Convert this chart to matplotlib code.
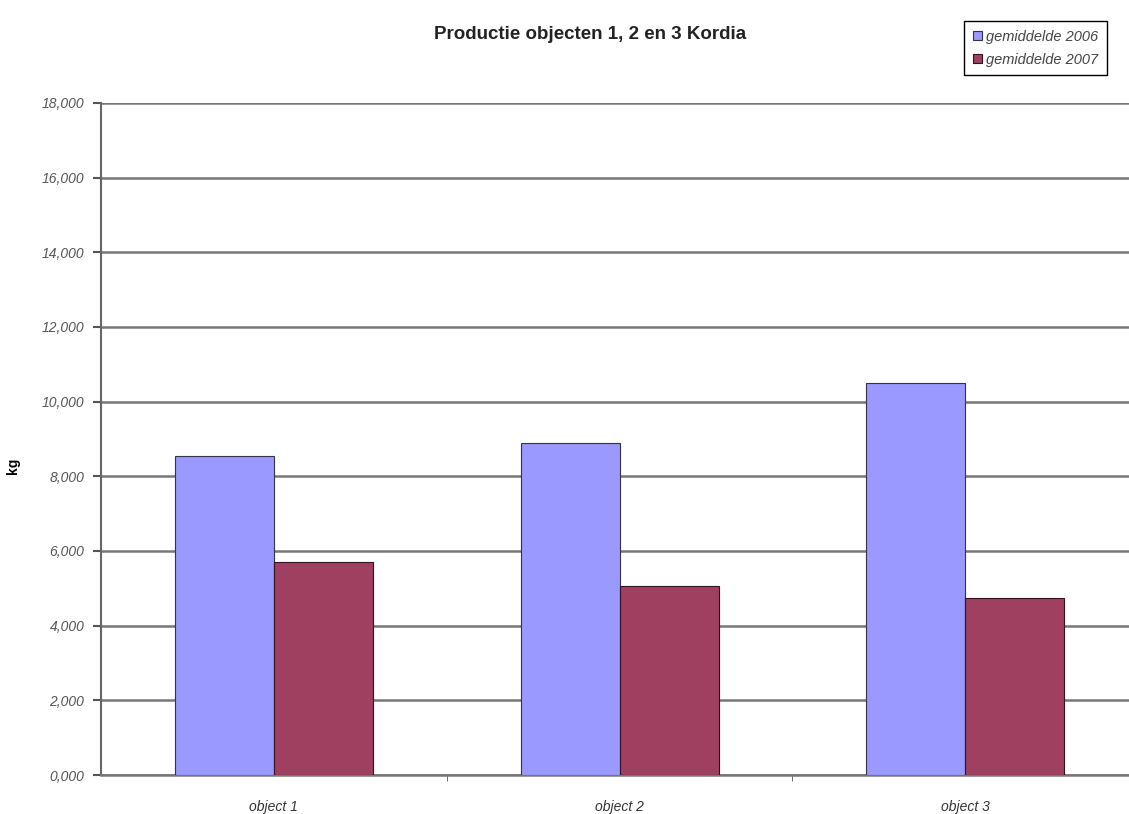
import numpy as np
import matplotlib.pyplot as plt
from matplotlib.ticker import FuncFormatter

categories = ['object 1', 'object 2', 'object 3']
gem_2006 = [8550, 8900, 10500]
gem_2007 = [5700, 5050, 4750]
series_names = ['gemiddelde 2006', 'gemiddelde 2007']

plt.rcParams['font.family'] = ['Liberation Sans', 'DejaVu Sans']

fig = plt.figure(figsize=(11.29, 8.14), dpi=100)
ax = fig.add_axes([0.0895, 0.0479, 0.9185, 0.8256])

x = np.arange(len(categories))
w = 0.2865
ax.bar(x - w / 2, gem_2006, w, color='#9999FF', edgecolor='#333344', linewidth=0.8,
       label=series_names[0], zorder=3)
ax.bar(x + w / 2, gem_2007, w, color='#A04060', edgecolor='#331122', linewidth=0.8,
       label=series_names[1], zorder=3)

ax.set_xlim(-0.5, 2.5)
ax.set_ylim(0, 18000)
ax.set_yticks(np.arange(0, 18001, 2000))
ax.yaxis.set_major_formatter(FuncFormatter(lambda v, p: f'{int(v) // 1000},000'))
ax.grid(axis='y', color='#777777', linewidth=1.8, zorder=0)

ax.set_xticks(x)
ax.set_xticklabels(categories, style='italic', fontsize=10, color='#333333')
ax.set_xticks([0.5, 1.5], minor=True)
ax.tick_params(axis='x', which='major', length=0, pad=18)
ax.tick_params(axis='x', which='minor', length=4, color='#555555')
ax.tick_params(axis='y', length=6, width=1.5, color='#555555', labelsize=10,
               labelcolor='#555555', pad=6)
for t in ax.get_yticklabels():
    t.set_style('italic')

for s in ['top', 'right']:
    ax.spines[s].set_visible(False)
ax.spines['left'].set_color('#666666')
ax.spines['left'].set_linewidth(1.5)
ax.spines['bottom'].set_color('#777777')
ax.spines['bottom'].set_linewidth(1.8)

ax.set_ylabel('kg', fontweight='bold', fontsize=10)
ax.yaxis.set_label_coords(-0.078, 0.46)
fig.text(0.523, 0.958, 'Productie objecten 1, 2 en 3 Kordia', ha='center', va='center',
         fontsize=13.5, fontweight='bold', color='#222222')

leg = fig.legend(loc='upper left', bbox_to_anchor=(0.8475, 0.983), fancybox=False,
                 edgecolor='black', framealpha=1, handlelength=0.6, handleheight=0.6,
                 handletextpad=0.3, borderpad=0.6, labelspacing=0.6,
                 prop={'style': 'italic', 'size': 10.5})
leg.get_frame().set_linewidth(1.0)
for t in leg.get_texts():
    t.set_color('#444444')

fig.savefig('out.png', dpi=100)
